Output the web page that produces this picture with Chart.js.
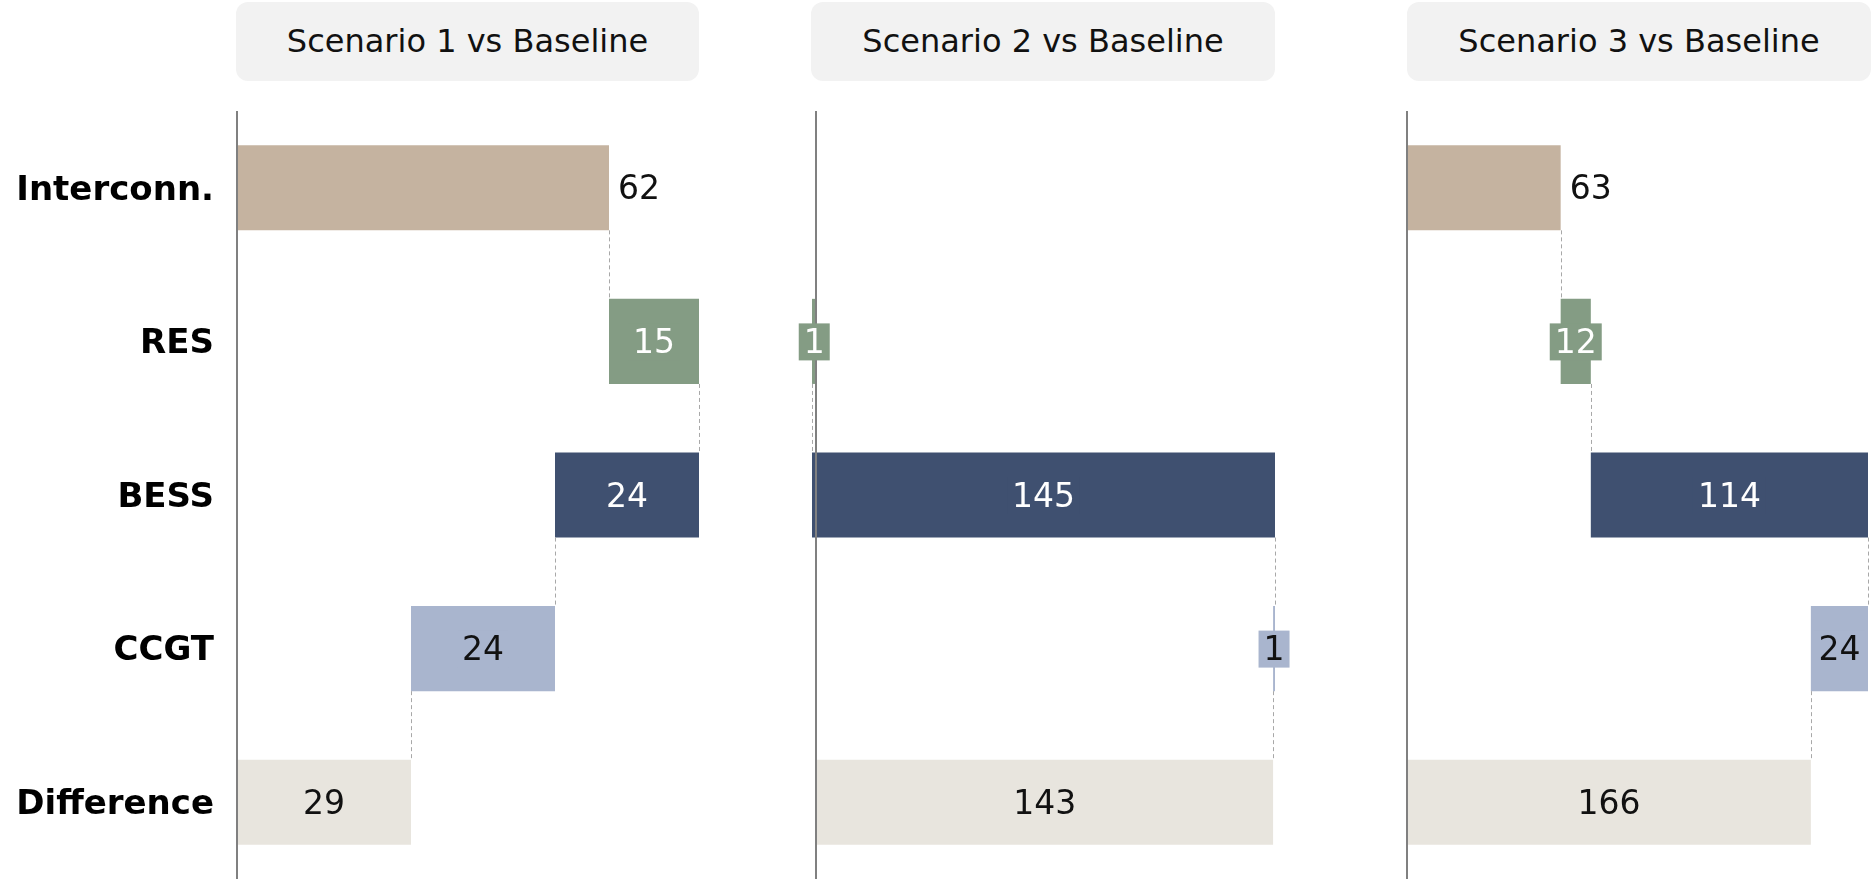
<!DOCTYPE html>
<html>
<head>
<meta charset="utf-8">
<script src="https://cdn.jsdelivr.net/npm/chart.js@4.4.1/dist/chart.umd.min.js"></script>
<style>
  body { margin:0; width:1876px; height:879px; background:#fff; position:relative; overflow:hidden; font-family:"DejaVu Sans", sans-serif; }
  .title { position:absolute; top:2px; height:79px; line-height:79px; background:#f2f2f2; border-radius:12px; text-align:center; font-size:32px; color:#111; }
  canvas { position:absolute; top:111px; }
</style>
</head>
<body>
<div class="title" id="t1" style="left:236px;width:463px"></div>
<div class="title" id="t2" style="left:811px;width:464px"></div>
<div class="title" id="t3" style="left:1407px;width:464px"></div>
<canvas id="c1" width="740" height="768" style="left:0px"></canvas>
<canvas id="c2" width="543" height="768" style="left:772px"></canvas>
<canvas id="c3" width="509" height="768" style="left:1367px"></canvas>
<script>
const categories = ['Interconn.', 'RES', 'BESS', 'CCGT', 'Difference'];
const panelTitles = ['Scenario 1 vs Baseline', 'Scenario 2 vs Baseline', 'Scenario 3 vs Baseline'];
// changes per technology, last entry is the resulting difference
const scenario1 = [62, 15, -24, -24, 29];
const scenario2 = [0, -1.4, 145, -0.6, 143];
const scenario3 = [63.2, 12.4, 114, -23.5, 166.1];
const barColors = ['#c5b3a0', '#849c84', '#3f5070', '#a9b5ce', '#e8e5de'];
const labelColors = ['#111111', '#ffffff', '#ffffff', '#111111', '#111111'];

function toRanges(vals) {
  let run = 0;
  const out = [];
  vals.forEach((v, i) => {
    if (i === vals.length - 1) out.push([0, v]);
    else { out.push([run, run + v]); run += v; }
  });
  return out;
}

const waterfallPlugin = {
  id: 'waterfall',
  afterDatasetsDraw(chart, args, opts) {
    const ctx = chart.ctx, x = chart.scales.x, area = chart.chartArea;
    const meta = chart.getDatasetMeta(0);
    const ranges = chart.data.datasets[0].data;
    const vals = opts.values;
    ctx.save();
    // dashed connectors
    ctx.strokeStyle = '#a8a8a8';
    ctx.lineWidth = 1;
    ctx.setLineDash([4, 3]);
    for (let i = 0; i < ranges.length - 1; i++) {
      const a = meta.data[i], b = meta.data[i + 1];
      const px = Math.round(x.getPixelForValue(ranges[i][1])) + 0.5;
      ctx.beginPath();
      ctx.moveTo(px, a.y + a.height / 2);
      ctx.lineTo(px, b.y - b.height / 2);
      ctx.stroke();
    }
    // zero line
    ctx.setLineDash([]);
    ctx.strokeStyle = '#808080';
    ctx.lineWidth = 2;
    const zx = Math.round(x.getPixelForValue(0));
    ctx.beginPath();
    ctx.moveTo(zx, area.top);
    ctx.lineTo(zx, area.bottom);
    ctx.stroke();
    // value labels
    ctx.font = '33px "DejaVu Sans"';
    ctx.textBaseline = 'middle';
    meta.data.forEach((bar, i) => {
      const n = Math.round(Math.abs(vals[i]));
      if (n === 0) return;
      const txt = String(n);
      const x0 = x.getPixelForValue(ranges[i][0]), x1 = x.getPixelForValue(ranges[i][1]);
      const w = ctx.measureText(txt).width;
      if (i === 0) {
        ctx.textAlign = 'left';
        ctx.fillStyle = '#111111';
        ctx.fillText(txt, Math.max(x0, x1) + 9, bar.y + 3);
        return;
      }
      const cx = (x0 + x1) / 2;
      ctx.fillStyle = barColors[i];
      ctx.fillRect(cx - w / 2 - 5, bar.y - 18, w + 10, 37);
      ctx.fillStyle = labelColors[i];
      ctx.textAlign = 'center';
      ctx.fillText(txt, cx, bar.y + 3);
    });
    ctx.restore();
  }
};

function makePanel(id, vals, showLabels, padding) {
  const ranges = toRanges(vals);
  const ends = ranges.flat();
  new Chart(document.getElementById(id), {
    type: 'bar',
    data: {
      labels: categories,
      datasets: [{
        data: ranges,
        backgroundColor: barColors,
        borderWidth: 0,
        barPercentage: 0.554,
        categoryPercentage: 1
      }]
    },
    options: {
      indexAxis: 'y',
      responsive: false,
      animation: false,
      layout: { padding: padding },
      scales: {
        x: {
          type: 'linear',
          display: false,
          min: Math.min(0, ...ends),
          max: Math.max(...ends)
        },
        y: {
          display: showLabels,
          grid: { display: false, drawTicks: false },
          border: { display: false },
          ticks: {
            color: '#000000',
            padding: 23,
            labelOffset: 3,
            font: { family: 'DejaVu Sans', size: 34, weight: 'bold' }
          },
          afterFit(scale) {
            if (!showLabels) return;
            scale.width = 237;
            scale.paddingTop = 0;
            scale.paddingBottom = 0;
          }
        }
      },
      plugins: {
        legend: { display: false },
        tooltip: { enabled: false },
        waterfall: { values: vals }
      }
    },
    plugins: [waterfallPlugin]
  });
}

document.getElementById('t1').textContent = panelTitles[0];
document.getElementById('t2').textContent = panelTitles[1];
document.getElementById('t3').textContent = panelTitles[2];

makePanel('c1', scenario1, true, { left: 0, right: 41, top: 0, bottom: 0 });
makePanel('c2', scenario2, false, { left: 40, right: 40, top: 0, bottom: 0 });
makePanel('c3', scenario3, false, { left: 40, right: 8, top: 0, bottom: 0 });
</script>
</body>
</html>
